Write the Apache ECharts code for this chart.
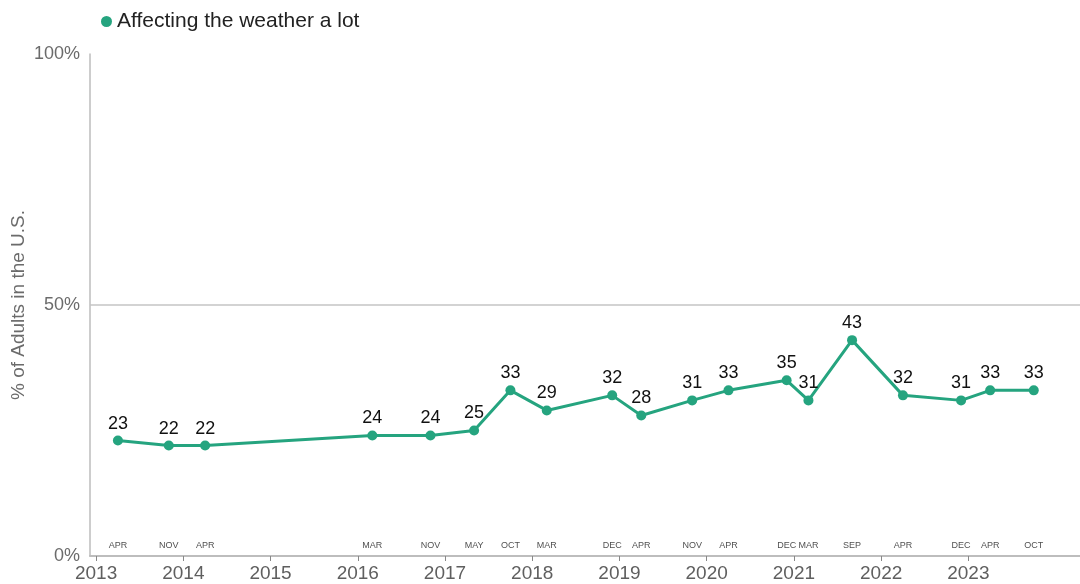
<!DOCTYPE html>
<html>
<head>
<meta charset="utf-8">
<script src="https://cdn.jsdelivr.net/npm/echarts@6/dist/echarts.min.js"></script>
<style>
html,body{margin:0;padding:0;background:#fff;}
#chart{width:1080px;height:584px;}
</style>
</head>
<body>
<div id="chart"></div>
<script>
const surveyDates = ['2013-04','2013-11','2014-04','2016-03','2016-11','2017-05','2017-10','2018-03','2018-12','2019-04','2019-11','2020-04','2020-12','2021-03','2021-09','2022-04','2022-12','2023-04','2023-10'];
const weatherValues = [23,22,22,24,24,25,33,29,32,28,31,33,35,31,43,32,31,33,33];
const yearTicks = [2013,2014,2015,2016,2017,2018,2019,2020,2021,2022,2023];
const yTicks = [0,50,100];
const monthNames = ['JAN','FEB','MAR','APR','MAY','JUN','JUL','AUG','SEP','OCT','NOV','DEC'];

function toYear(s){ const p=s.split('-'); return +p[0] + (+p[1]-1)/12; }
function monthOf(s){ return monthNames[+s.split('-')[1]-1]; }

const lineData = surveyDates.map((d,i)=>[toYear(d), weatherValues[i]]);
const monthData = surveyDates.map(d=>({value:[toYear(d),0], name:monthOf(d)}));
const color = '#25a47f';

const chart = echarts.init(document.getElementById('chart'));
chart.setOption({
  animation:false,
  textStyle:{fontFamily:'Liberation Sans, Arial, sans-serif'},
  legend:{
    left:96, top:6, icon:'circle', itemWidth:11, itemHeight:11, itemGap:10,
    data:['Affecting the weather a lot'],
    textStyle:{fontSize:21, color:'#222', fontFamily:'Liberation Sans, Arial, sans-serif'}
  },
  grid:{left:90, right:0, top:54, bottom:28, containLabel:false, outerBoundsMode:'none'},
  xAxis:{
    type:'value', min:2012.93, max:2024.28,
    axisLine:{show:true, lineStyle:{color:'#bdbdbd', width:2}},
    axisTick:{show:true, customValues:yearTicks, length:5, lineStyle:{color:'#888', width:1}},
    axisLabel:{customValues:yearTicks, fontSize:19, color:'#5f5f5f', margin:8, formatter:v=>String(Math.round(v))},
    splitLine:{show:false}
  },
  yAxis:{
    type:'value', min:0, max:100, interval:50,
    name:'% of Adults in the U.S.', nameLocation:'middle', nameGap:62, nameRotate:90,
    nameMoveOverlap:false,
    nameTextStyle:{fontSize:19, color:'#6b6b6b'},
    axisLine:{show:true, lineStyle:{color:'#bdbdbd', width:1.5}},
    axisTick:{show:false},
    axisLabel:{fontSize:18, color:'#6b6b6b', margin:10, formatter:v=>v+'%'},
    splitLine:{show:false}
  },
  series:[
    {
      name:'Affecting the weather a lot', type:'line', data:lineData,
      color:color, symbol:'circle', symbolSize:10,
      lineStyle:{width:3, color:color}, itemStyle:{color:color},
      label:{show:true, position:'top', distance:3, fontSize:18, color:'#111', formatter:p=>p.value[1]},
      markLine:{silent:true, symbol:'none', label:{show:false},
        lineStyle:{color:'#c4c4c4', type:'solid', width:1.5},
        data:[{yAxis:yTicks[1]}]},
      z:3
    },
    {
      name:'months', type:'scatter', data:monthData, symbolSize:0,
      label:{show:true, position:'top', distance:6, fontSize:9, color:'#222', formatter:p=>p.name},
      silent:true, z:2
    }
  ]
});
</script>
</body>
</html>
